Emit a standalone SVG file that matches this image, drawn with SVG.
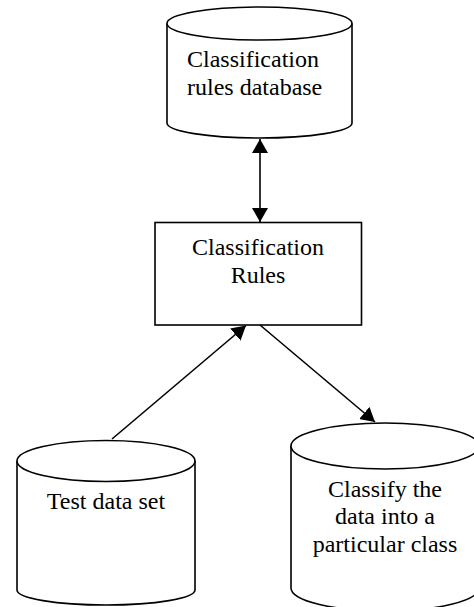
<svg xmlns="http://www.w3.org/2000/svg" width="474" height="607" viewBox="0 0 474 607">
<style>
.shape{fill:#fff;stroke:#000;stroke-width:1.6}
.edge{fill:none;stroke:#000;stroke-width:1.6}
text{font-family:'Liberation Serif','Times New Roman','DejaVu Serif',serif;font-size:24px;fill:#000}
.c{text-anchor:middle}
</style>
<defs>
<marker id="ah" markerUnits="userSpaceOnUse" viewBox="0 0 14 16" markerWidth="14" markerHeight="16" refX="14" refY="8" orient="auto-start-reverse">
<path d="M0,0 L14,8 L0,16 z" fill="#000"/>
</marker>
</defs>
<rect width="474" height="607" fill="#fff"/>
<g id="rules-db">
<path class="shape" d="M167,23.5 V123 A92.5,15 0 0 0 352,123 V23.5"/>
<ellipse class="shape" cx="259.5" cy="23.5" rx="92.5" ry="16.5"/>
<text x="187" y="67" font-family="Liberation Serif, serif">Classification</text>
<text x="187" y="95" font-family="Liberation Serif, serif">rules database</text>
</g>
<g id="classification-rules">
<rect class="shape" x="155" y="222.5" width="206.5" height="102.5"/>
<text class="c" x="258" y="255" font-family="Liberation Serif, serif">Classification</text>
<text class="c" x="258" y="282.5" font-family="Liberation Serif, serif">Rules</text>
</g>
<g id="test-data">
<path class="shape" d="M17,461 V590 A89,15 0 0 0 195,590 V461"/>
<ellipse class="shape" cx="106" cy="461" rx="89" ry="20.5"/>
<text class="c" x="106" y="509" font-family="Liberation Serif, serif">Test data set</text>
</g>
<g id="classify">
<path class="shape" d="M291,446 V588 A94,23 0 0 0 479,588 V446"/>
<ellipse class="shape" cx="385" cy="446" rx="94" ry="23"/>
<text class="c" x="385" y="496.5" font-family="Liberation Serif, serif">Classify the</text>
<text class="c" x="385" y="524" font-family="Liberation Serif, serif">data into a</text>
<text class="c" x="385" y="551.5" font-family="Liberation Serif, serif">particular class</text>
</g>
<g id="connectors">
<line class="edge" x1="260" y1="139" x2="260" y2="222" marker-start="url(#ah)" marker-end="url(#ah)"/>
<line class="edge" x1="112" y1="439" x2="246" y2="325.5" marker-end="url(#ah)"/>
<line class="edge" x1="260" y1="325" x2="375" y2="422" marker-end="url(#ah)"/>
</g>
</svg>
